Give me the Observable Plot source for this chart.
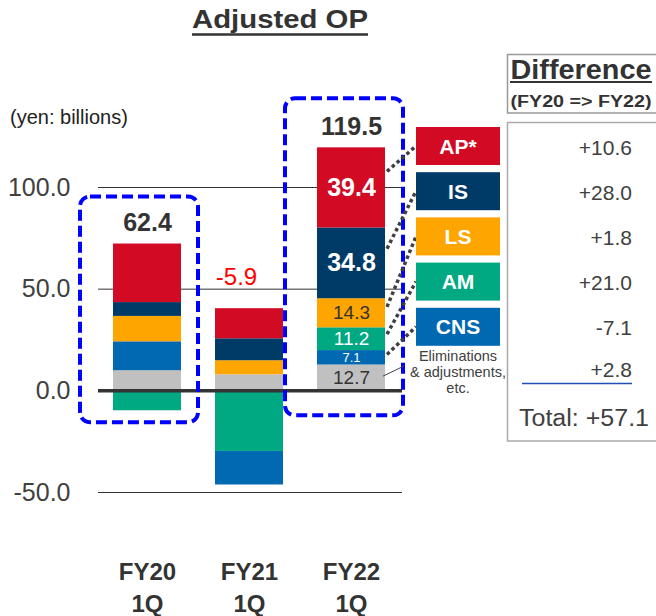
<!DOCTYPE html>
<html><head><meta charset="utf-8">
<script src="https://cdn.jsdelivr.net/npm/d3@7"></script>
<script src="https://cdn.jsdelivr.net/npm/@observablehq/plot@0.6"></script>
<style>html,body{margin:0;padding:0;background:#fff;} svg{display:block}</style>
</head><body><div id="chart"></div>
<script>
// ---- data ----
const periods = ["FY20 1Q", "FY21 1Q", "FY22 1Q"];
const periodLabels = ["FY20\n1Q", "FY21\n1Q", "FY22\n1Q"];
const segments = ["AP*", "IS", "LS", "AM", "CNS", "Eliminations & adjustments, etc."];
const AP   = [28.8, 14.8, 39.4];
const IS   = [6.8, 10.8, 34.8];
const LS   = [12.5, 6.9, 14.3];
const AM   = [-9.8, -29.8, 11.2];
const CNS  = [14.2, -16.5, 7.1];
const ELIM = [9.9, 7.9, 12.7];
const totals = [62.4, -5.9, 119.5];
const diffLabels = ["+10.6", "+28.0", "+1.8", "+21.0", "-7.1", "+2.8"];
const diffTotal = "+57.1";
const yTicks = [-50, 0, 50, 100];

// ---- styles ----
const FONT = "'Liberation Sans', Arial, Helvetica, sans-serif";
const seriesValues = [AP, IS, LS, AM, CNS, ELIM];
const colors = ["#D20A24", "#003A66", "#FFA500", "#00A982", "#0069B2", "#C0C0C0"];
const labelFill = ["#fff", "#fff", "#333", "#fff", "#fff", "#333"];
const labelSize = [25, 25, 19, 19, 13, 19];
const labelBold = [true, true, false, false, false, false];
const posOrder = [5, 4, 3, 2, 1, 0]; // bottom -> top
const negOrder = [3, 4, 2, 1, 0, 5]; // from zero downward

// ---- stacking ----
const rows = [];
const extents = [];
periods.forEach((p, i) => {
  let pos = 0, neg = 0;
  posOrder.forEach(k => {
    const v = seriesValues[k][i];
    if (v >= 0) { rows.push({period: p, k, value: v, y1: pos, y2: pos + v}); pos += v; }
  });
  negOrder.forEach(k => {
    const v = seriesValues[k][i];
    if (v < 0) { rows.push({period: p, k, value: v, y1: neg + v, y2: neg}); neg += v; }
  });
  extents.push({period: p, i, top: pos, bottom: neg, total: totals[i]});
});
const fy22 = rows.filter(r => r.period === periods[2]);

const plot = Plot.plot({
  width: 656, height: 616,
  marginLeft: 98, marginRight: 254, marginTop: 0, marginBottom: 0,
  style: {fontFamily: FONT, background: "#fff"},
  x: {type: "band", domain: periods, range: [113, 385], paddingInner: 1/3, paddingOuter: 0, axis: null},
  y: {domain: [-50, 100], range: [492, 187], axis: null},
  color: {type: "identity"},
  marks: [
    Plot.ruleY(yTicks.filter(d => d !== 0), {stroke: "#333", strokeWidth: 1}),
    Plot.barY(rows, {x: "period", y1: "y1", y2: "y2", fill: d => colors[d.k]}),
    Plot.ruleY([0], {stroke: "#333", strokeWidth: 3.5}),
    // dashed highlight boxes
    Plot.barY([extents[0]], {x: "period", y1: "bottom", y2: "top", fill: "none", stroke: "#0000FF",
      strokeWidth: 4, strokeDasharray: "11 5", rx: 10,
      insetTop: -47, insetBottom: -12, insetLeft: -33, insetRight: -17}),
    Plot.barY([extents[2]], {x: "period", y1: "bottom", y2: "top", fill: "none", stroke: "#0000FF",
      strokeWidth: 4, strokeDasharray: "11 5", rx: 10,
      insetTop: -49, insetBottom: -25, insetLeft: -32, insetRight: -18}),
    // y tick labels
    Plot.text(yTicks, {y: d => d, text: d => d.toFixed(1), frameAnchor: "left", textAnchor: "end",
      dx: -28, fontSize: 25, fill: "#404040"}),
    // x labels
    Plot.text(periods, {x: d => d, text: (d, i) => periodLabels[i], frameAnchor: "bottom",
      lineAnchor: "bottom", lineHeight: 1.33, dy: -5, fontSize: 24, fontWeight: "bold", fill: "#333"}),
    // totals
    Plot.text(extents.filter(e => e.total > 0), {x: "period", y: "top", text: d => d.total.toFixed(1),
      dy: -21, fontSize: 25, fontWeight: "bold", fill: "#333"}),
    Plot.text(extents.filter(e => e.total < 0), {x: "period", y: "top", text: d => d.total.toFixed(1),
      dy: -31, dx: -13, fontSize: 24, fill: "#FF0000"}),
    // FY22 segment labels
    Plot.text(fy22.filter(r => labelBold[r.k]), {x: "period", y: r => (r.y1 + r.y2) / 2,
      text: r => r.value.toFixed(1), fill: r => labelFill[r.k], fontSize: r => labelSize[r.k], fontWeight: "bold"}),
    Plot.text(fy22.filter(r => !labelBold[r.k]), {x: "period", y: r => (r.y1 + r.y2) / 2,
      text: r => r.value.toFixed(1), fill: r => labelFill[r.k], fontSize: r => labelSize[r.k]})
  ]
});
document.getElementById("chart").appendChild(plot);

// ---- annotations ----
const svg = d3.select(plot);
const ys = plot.scale("y"), xs = plot.scale("x");
const barEnd = xs.apply(periods[2]) + xs.bandwidth;
const g = svg.append("g").attr("font-family", FONT).attr("text-anchor", "start");

// title
g.append("text").attr("x", 280).attr("y", 28).attr("text-anchor", "middle")
  .attr("font-size", 26).attr("font-weight", "bold").attr("fill", "#333")
  .attr("textLength", 176).attr("lengthAdjust", "spacingAndGlyphs").text("Adjusted OP");
g.append("line").attr("x1", 192).attr("x2", 368).attr("y1", 34.5).attr("y2", 34.5)
  .attr("stroke", "#333").attr("stroke-width", 2.5);

// unit
g.append("text").attr("x", 10).attr("y", 124).attr("text-anchor", "start")
  .attr("font-size", 20).attr("fill", "#222").text("(yen: billions)");

// legend boxes + connectors
const boxTop = i => 127 + i * 45.2;
const boxH = 38;
[0, 1, 2, 3, 4].forEach(k => {
  const r = fy22.find(d => d.k === k);
  const sy = ys.apply(r.y1 + 0.7 * (r.y2 - r.y1));
  const ey = boxTop(k) + boxH / 2;
  g.append("line").attr("x1", barEnd + 2).attr("y1", sy).attr("x2", 416).attr("y2", ey)
    .attr("stroke", "#404040").attr("stroke-width", 3.5).attr("stroke-dasharray", "3.5 3");
  g.append("rect").attr("x", 416).attr("y", boxTop(k)).attr("width", 84).attr("height", boxH)
    .attr("fill", colors[k]);
  g.append("text").attr("x", 458).attr("y", boxTop(k) + boxH / 2).attr("dy", "0.36em")
    .attr("text-anchor", "middle").attr("font-size", 21).attr("font-weight", "bold")
    .attr("fill", "#fff").text(segments[k]);
});
// eliminations note
const rE = fy22.find(d => d.k === 5);
g.append("line").attr("x1", barEnd - 2).attr("y1", ys.apply(rE.y1 + 0.55 * (rE.y2 - rE.y1)))
  .attr("x2", 404).attr("y2", 366).attr("stroke", "#404040").attr("stroke-width", 1);
["Eliminations", "& adjustments,", "etc."].forEach((t, j) => {
  g.append("text").attr("x", 458).attr("y", 356 + j * 16).attr("dy", "0.36em")
    .attr("text-anchor", "middle").attr("font-size", 14.5).attr("fill", "#404040").text(t);
});

// difference table
g.append("rect").attr("x", 507.5).attr("y", 54.5).attr("width", 160).attr("height", 58.5)
  .attr("fill", "#fff").attr("stroke", "#999").attr("stroke-width", 1.5);
g.append("text").attr("x", 581).attr("y", 79).attr("text-anchor", "middle").attr("font-size", 28)
  .attr("font-weight", "bold").attr("fill", "#333")
  .attr("textLength", 141).attr("lengthAdjust", "spacingAndGlyphs").text("Difference");
g.append("line").attr("x1", 510).attr("x2", 652).attr("y1", 82).attr("y2", 82)
  .attr("stroke", "#333").attr("stroke-width", 2);
g.append("text").attr("x", 581).attr("y", 107).attr("text-anchor", "middle").attr("font-size", 16)
  .attr("font-weight", "bold").attr("fill", "#333")
  .attr("textLength", 141).attr("lengthAdjust", "spacingAndGlyphs").text("(FY20 => FY22)");
g.append("rect").attr("x", 507.5).attr("y", 122.5).attr("width", 160).attr("height", 318.5)
  .attr("fill", "none").attr("stroke", "#aaa").attr("stroke-width", 1.5);
diffLabels.forEach((t, k) => {
  const cy = k < 5 ? boxTop(k) + boxH / 2 + 1 : 369;
  g.append("text").attr("x", 632).attr("y", cy).attr("dy", "0.36em").attr("text-anchor", "end")
    .attr("font-size", 21).attr("fill", "#404040").text(t);
});
g.append("line").attr("x1", 522).attr("x2", 632).attr("y1", 383.5).attr("y2", 383.5)
  .attr("stroke", "#1F4FB4").attr("stroke-width", 1.5);
g.append("text").attr("x", 519).attr("y", 418).attr("dy", "0.36em").attr("text-anchor", "start")
  .attr("font-size", 23).attr("fill", "#404040").attr("textLength", 130)
  .attr("lengthAdjust", "spacingAndGlyphs").text("Total: " + diffTotal);
</script>
</body></html>
